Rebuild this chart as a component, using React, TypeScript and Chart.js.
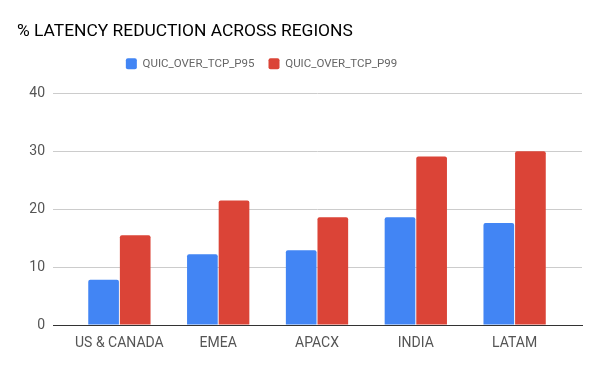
import React, { useEffect, useRef } from "react";
import { Chart, registerables } from "chart.js";

Chart.register(...registerables);

const categories = ["US & CANADA", "EMEA", "APACX", "INDIA", "LATAM"];
const p95Values = [7.8, 12.2, 12.9, 18.6, 17.6];
const p99Values = [15.5, 21.5, 18.6, 29.1, 30.0];
const seriesNames = ["QUIC_OVER_TCP_P95", "QUIC_OVER_TCP_P99"];
const yTicks = [0, 10, 20, 30, 40];

const legendShift = {
  id: "legendShift",
  afterLayout(chart: any) {
    const lg = chart.legend;
    if (!lg) return;
    const dx = -38;
    const dy = -14;
    lg.left += dx;
    lg.right += dx;
    lg.top += dy;
    lg.bottom += dy;
  },
};

export default function App() {
  const ref = useRef<HTMLCanvasElement | null>(null);
  useEffect(() => {
    document.body.style.margin = "0";
    if (!ref.current) return;
    const font = "Roboto";
    const chart = new Chart(ref.current, {
      type: "bar",
      data: {
        datasets: [
          {
            label: seriesNames[0],
            data: p95Values.map((v, i) => ({ x: i, y: v })),
            backgroundColor: "#4285F4",
            borderRadius: { topLeft: 2, topRight: 2 },
            borderSkipped: "start",
            categoryPercentage: 0.64,
            barPercentage: 0.97,
          },
          {
            label: seriesNames[1],
            data: p99Values.map((v, i) => ({ x: i, y: v })),
            backgroundColor: "#DB4437",
            borderRadius: { topLeft: 2, topRight: 2 },
            borderSkipped: "start",
            categoryPercentage: 0.64,
            barPercentage: 0.97,
          },
        ],
      },
      plugins: [legendShift],
      options: {
        animation: false,
        responsive: false,
        layout: { padding: { left: 17, right: 18, top: 0, bottom: 0 } },
        plugins: {
          title: {
            display: true,
            text: "% LATENCY REDUCTION ACROSS REGIONS",
            align: "start",
            color: "#000000",
            font: { family: font, size: 17.4, weight: "normal" },
            padding: { top: 21, bottom: 16 },
          },
          legend: {
            display: true,
            position: "top",
            labels: {
              boxWidth: 11,
              boxHeight: 11,
              useBorderRadius: true,
              borderRadius: 2,
              padding: 14,
              color: "#666666",
              font: { family: font, size: 11.5 },
            },
          },
          tooltip: { enabled: false },
        },
        scales: {
          x: {
            type: "linear",
            offset: false,
            min: -0.672,
            max: 4.682,
            afterBuildTicks: (scale: any) => {
              scale.ticks = categories.map((_, i) => ({ value: i }));
            },
            afterFit: (scale: any) => {
              scale.height = 46;
            },
            ticks: {
              autoSkip: false,
              maxRotation: 0,
              padding: 10,
              color: "#555555",
              font: { family: font, size: 14 },
              callback: (v: any) => categories[v as number] ?? "",
            },
            grid: { display: false, drawTicks: false, offset: false },
            border: { display: true, color: "#333333", width: 1 },
          },
          y: {
            min: 0,
            max: 40,
            afterBuildTicks: (scale: any) => {
              scale.ticks = yTicks.map((v) => ({ value: v }));
            },
            afterFit: (scale: any) => {
              scale.width = 36;
            },
            ticks: {
              padding: 8,
              color: "#555555",
              font: { family: font, size: 14 },
            },
            grid: { color: "#cccccc", drawTicks: false },
            border: { display: false },
          },
        },
      },
    } as any);
    return () => chart.destroy();
  }, []);
  return (
    <div style={{ width: 600, height: 371 }}>
      <canvas ref={ref} width={600} height={371} style={{ display: "block" }} />
    </div>
  );
}
